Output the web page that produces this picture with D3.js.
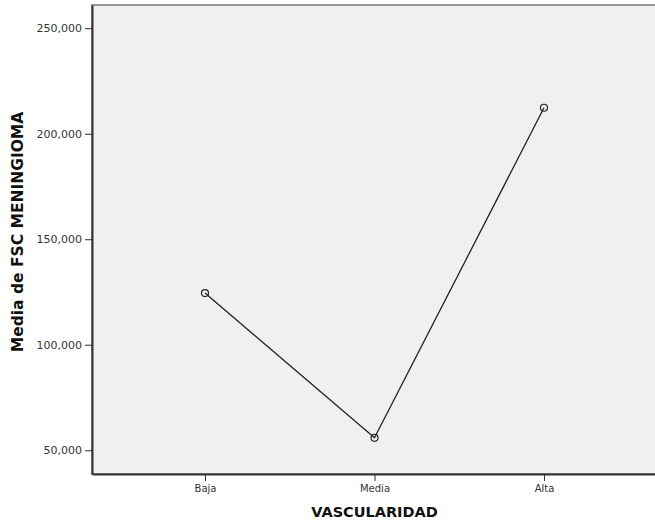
<!DOCTYPE html>
<html>
<head>
<meta charset="utf-8">
<script src="https://cdn.jsdelivr.net/npm/d3@7"></script>
<style>
  body { margin: 0; background: #fff; }
  text { font-family: "DejaVu Sans", sans-serif; }
</style>
</head>
<body>
<div id="chart"></div>
<script>
// data
const categories = ["Baja", "Media", "Alta"];
const means = [124500, 55900, 212300];
const yTicks = [50000, 100000, 150000, 200000, 250000];

const W = 655, H = 529;
const margin = { top: 5, right: -2, bottom: 55, left: 92 },
    width = W - margin.left - margin.right,
    height = H - margin.top - margin.bottom;

const svg = d3.select("#chart")
    .append("svg")
    .attr("width", W)
    .attr("height", H);

const g = svg.append("g")
    .attr("transform", `translate(${margin.left}, ${margin.top})`);

// plot background + frame
g.append("rect")
    .attr("width", width)
    .attr("height", height)
    .attr("fill", "#f0f0f0")
    .attr("stroke", "#777")
    .attr("stroke-width", 1.5);

const x = d3.scalePoint()
    .domain(categories)
    .range([0, width])
    .padding(2 / 3);

const y = d3.scaleLinear()
    .domain([38750, 261000])
    .range([height, 0]);

const fmt = d3.format(",.0f");

// Y axis
const yAxis = g.append("g")
    .call(d3.axisLeft(y).tickValues(yTicks).tickFormat(fmt).tickSizeInner(7).tickSizeOuter(0).tickPadding(3));
yAxis.select(".domain").attr("stroke", "#333").attr("stroke-width", 2);
yAxis.selectAll(".tick line").attr("stroke", "#333");
yAxis.selectAll("text").attr("font-size", 11).attr("fill", "#333");

// X axis
const xAxis = g.append("g")
    .attr("transform", `translate(0, ${height})`)
    .call(d3.axisBottom(x).tickSizeInner(7).tickSizeOuter(0).tickPadding(4));
xAxis.select(".domain").attr("stroke", "#333").attr("stroke-width", 2);
xAxis.selectAll(".tick line").attr("stroke", "#333");
xAxis.selectAll("text").attr("font-size", 10).attr("fill", "#333");

// line + markers
const pts = categories.map((c, i) => [x(c), y(means[i])]);
g.append("path")
    .attr("d", d3.line()(pts))
    .attr("fill", "none")
    .attr("stroke", "#222")
    .attr("stroke-width", 1.3);

g.selectAll("circle")
    .data(pts)
    .enter()
    .append("circle")
    .attr("cx", d => d[0])
    .attr("cy", d => d[1])
    .attr("r", 3.5)
    .attr("fill", "none")
    .attr("stroke", "#222")
    .attr("stroke-width", 1.2);

// axis titles
svg.append("text")
    .attr("x", margin.left + x("Media"))
    .attr("y", 517)
    .attr("text-anchor", "middle")
    .attr("font-size", 14.5)
    .attr("font-weight", "bold")
    .attr("fill", "#111")
    .text("VASCULARIDAD");

svg.append("text")
    .attr("transform", `translate(23, ${232}) rotate(-90)`)
    .attr("text-anchor", "middle")
    .attr("font-size", 15.5)
    .attr("font-weight", "bold")
    .attr("fill", "#111")
    .text("Media de FSC MENINGIOMA");
</script>
</body>
</html>
